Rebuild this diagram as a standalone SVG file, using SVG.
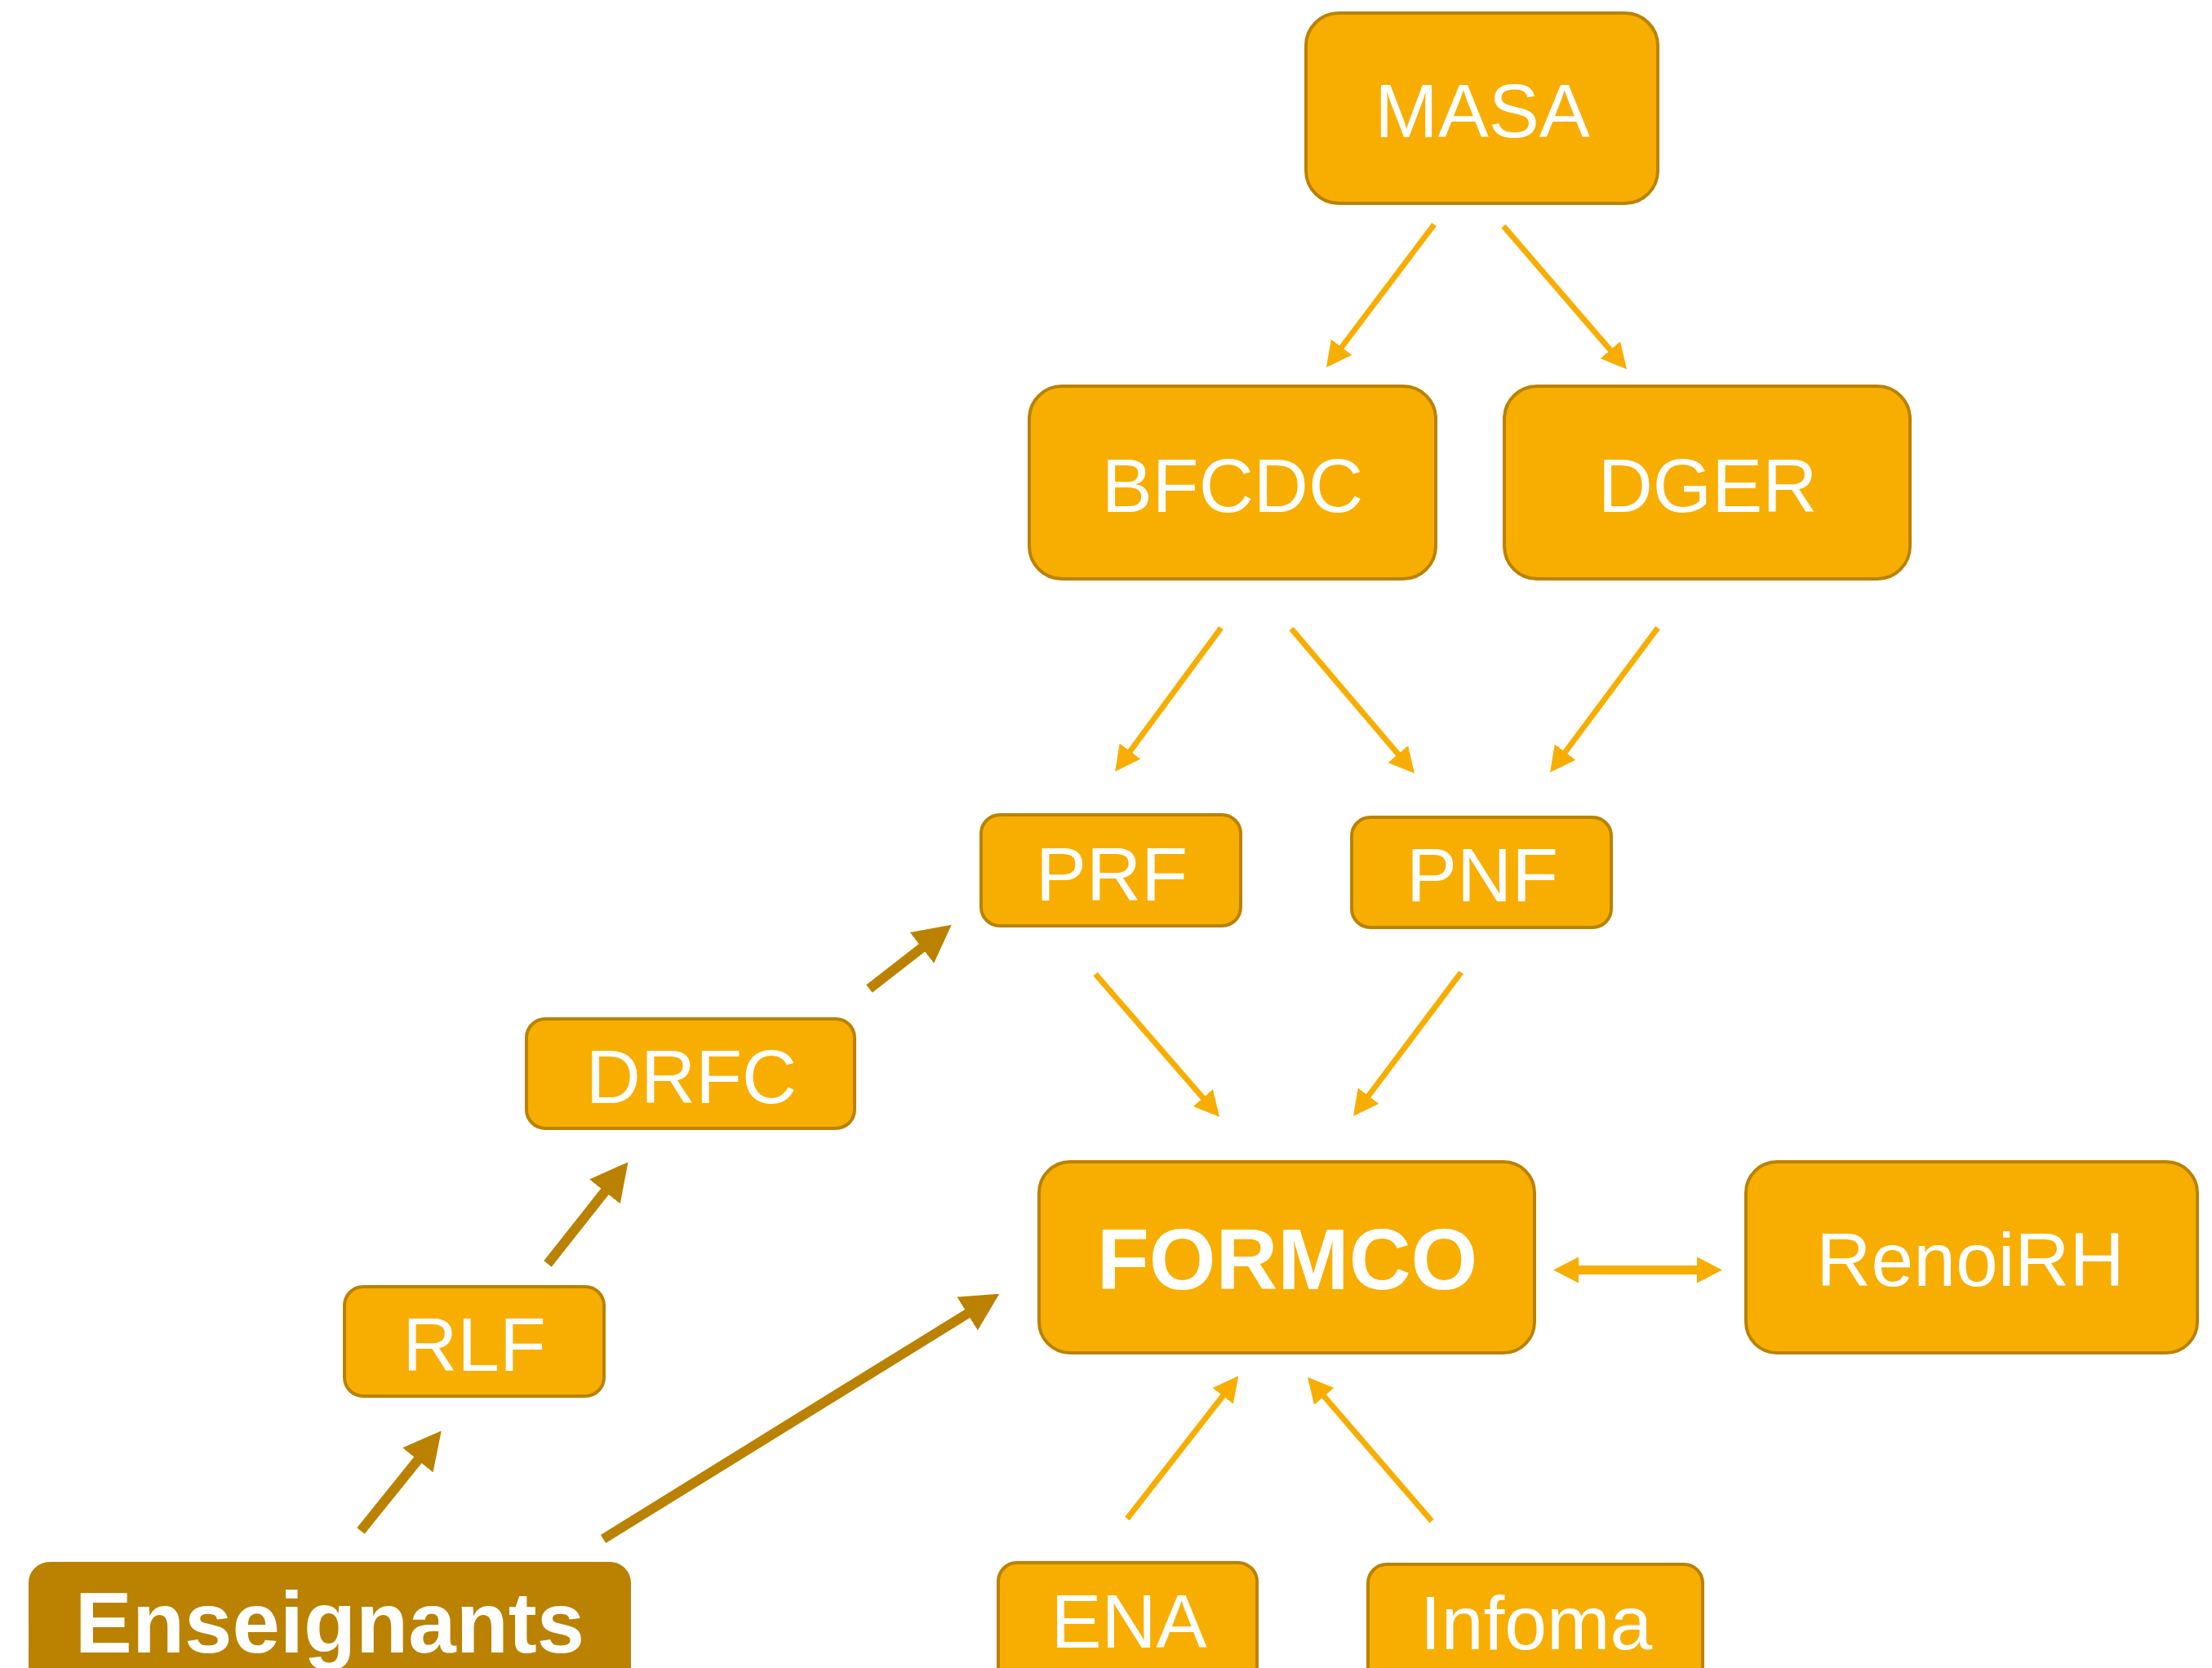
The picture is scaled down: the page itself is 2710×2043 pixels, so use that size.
<svg xmlns="http://www.w3.org/2000/svg" width="2710" height="2043" viewBox="0 0 2710 2043">
<style>
.box{fill:#F7AE00;stroke:#BA8200;stroke-width:4}
.dark{fill:#BA8200;stroke:#BA8200;stroke-width:4}
.lbl{font-family:"Liberation Sans",Arial,sans-serif;font-size:93px;fill:#FFFFFF;text-anchor:middle}
.bold{font-weight:bold;font-size:105px}
.ca{fill:none;stroke:#F7AE00;stroke-width:7;marker-end:url(#ho)}
.cd{fill:none;stroke:#BA8200;stroke-width:12;marker-end:url(#hd)}
</style>
<defs>
<marker id="ho" markerUnits="userSpaceOnUse" viewBox="0 -16 31 32" markerWidth="31" markerHeight="32" refX="11" refY="0" orient="auto-start-reverse"><path d="M0,-16 L31,0 L0,16 Z" fill="#F7AE00"/></marker>
<marker id="hd" markerUnits="userSpaceOnUse" viewBox="0 -24 46 48" markerWidth="46" markerHeight="48" refX="21" refY="0" orient="auto"><path d="M0,-24 L46,0 L0,24 Z" fill="#BA8200"/></marker>
</defs>
<rect width="2710" height="2043" fill="#FFFFFF"/>
<g id="connectors">
<path class="ca" d="M1757,275 L1637,434"/>
<path class="ca" d="M1842,277 L1980,437"/>
<path class="ca" d="M1496,769 L1378,929"/>
<path class="ca" d="M1582,770 L1720,932"/>
<path class="ca" d="M2031,769 L1911,930"/>
<path class="ca" d="M1342,1193 L1481,1353"/>
<path class="ca" d="M1790,1191 L1670,1351"/>
<path class="ca" d="M1381,1860 L1505,1701"/>
<path class="ca" d="M1754,1863 L1615,1702"/>
<path class="ca" d="M1923,1555.5 L2090,1555.5" style="stroke-width:11;marker-start:url(#ho)"/>
<path class="cd" d="M442,1875 L525,1772"/>
<path class="cd" d="M671,1548 L754,1443"/>
<path class="cd" d="M1065,1211 L1146,1148"/>
<path class="cd" d="M739,1885 L1203,1598"/>
</g>
<g id="MASA"><rect class="box" x="1600" y="16" width="431" height="233" rx="40"/><text class="lbl" x="1816" y="168">MASA</text></g>
<g id="BFCDC"><rect class="box" x="1261" y="473" width="498" height="236" rx="40"/><text class="lbl" x="1510" y="627">BFCDC</text></g>
<g id="DGER"><rect class="box" x="1843" y="473" width="497" height="236" rx="40"/><text class="lbl" x="2092" y="627">DGER</text></g>
<g id="PRF"><rect class="box" x="1202" y="998" width="318" height="136" rx="23"/><text class="lbl" x="1362" y="1103">PRF</text></g>
<g id="PNF"><rect class="box" x="1656" y="1001" width="318" height="135" rx="23"/><text class="lbl" x="1816" y="1104">PNF</text></g>
<g id="DRFC"><rect class="box" x="645" y="1248" width="402" height="134" rx="23"/><text class="lbl" x="847" y="1351">DRFC</text></g>
<g id="RLF"><rect class="box" x="422" y="1576" width="318" height="134" rx="23"/><text class="lbl" x="581" y="1679">RLF</text></g>
<g id="FORMCO"><rect class="box" x="1273" y="1423" width="607" height="234" rx="38"/><text class="lbl bold" x="1577" y="1579">FORMCO</text></g>
<g id="RenoiRH"><rect class="box" x="2139" y="1423" width="553" height="234" rx="38"/><text class="lbl" x="2414" y="1575">RenoiRH</text></g>
<g id="ENA"><rect class="box" x="1223" y="1914" width="317" height="160" rx="23"/><text class="lbl" x="1383" y="2018">ENA</text></g>
<g id="Infoma"><rect class="box" x="1676" y="1916" width="410" height="160" rx="23"/><text class="lbl" x="1882" y="2020">Infoma</text></g>
<g id="Enseignants"><rect class="dark" x="37" y="1915" width="734" height="160" rx="24"/><text class="lbl bold" x="404" y="2024">Enseignants</text></g>
</svg>
